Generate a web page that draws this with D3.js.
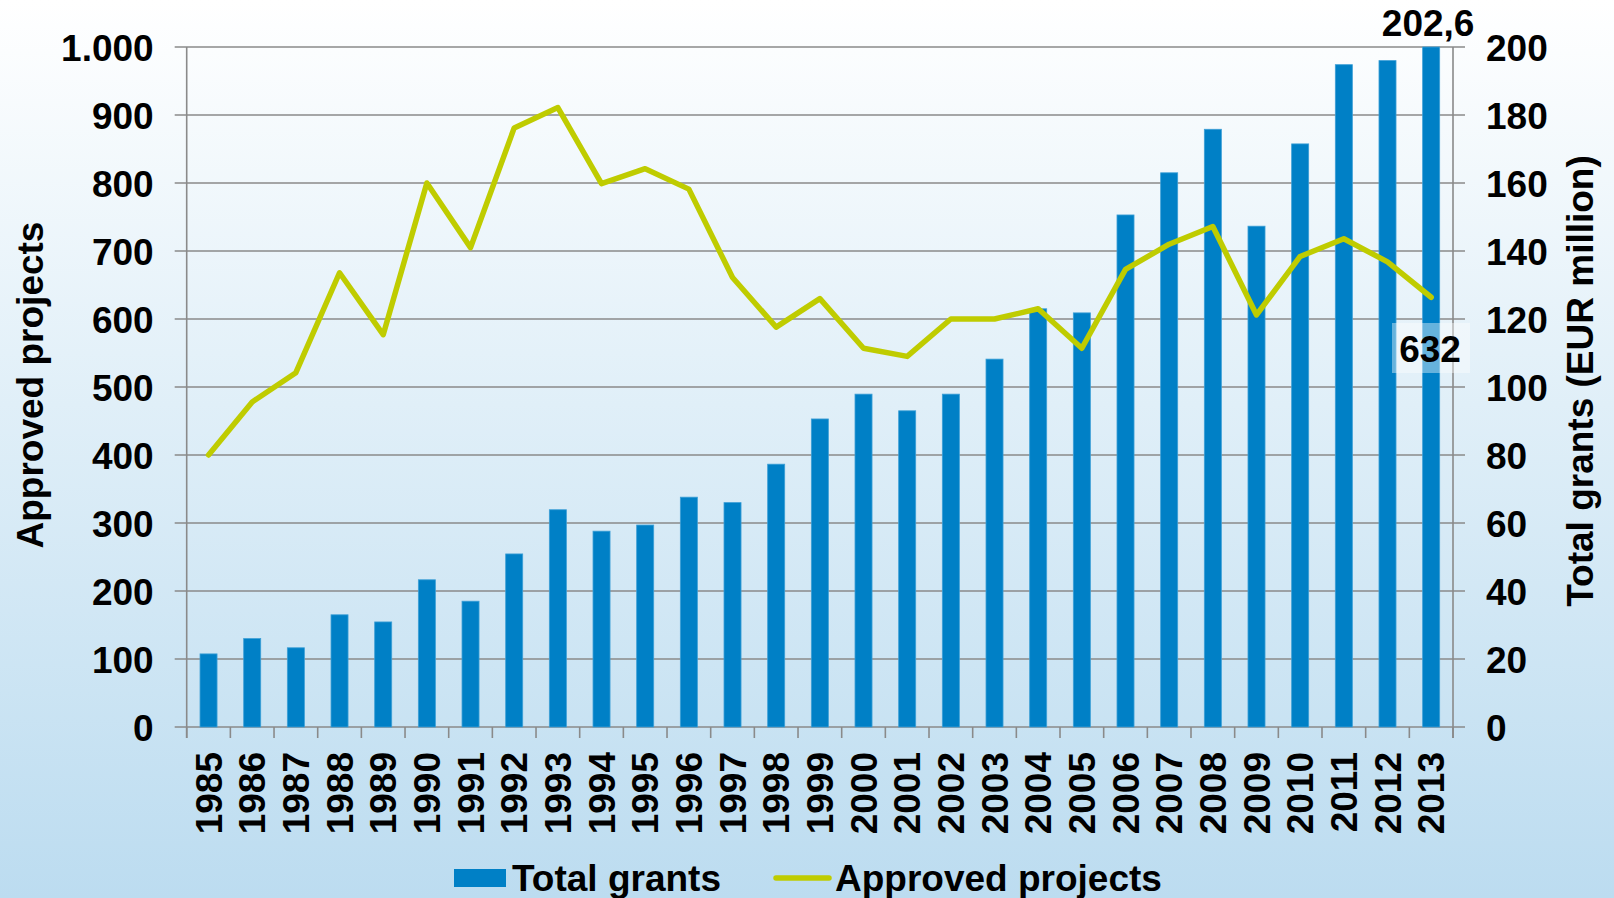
<!DOCTYPE html>
<html>
<head>
<meta charset="utf-8">
<script src="https://cdn.jsdelivr.net/npm/d3@7"></script>
<style>
html,body{margin:0;padding:0;}
body{width:1614px;height:898px;overflow:hidden;}
svg text{font-family:"Liberation Sans",Arial,sans-serif;font-weight:bold;fill:#000;}
</style>
</head>
<body>
<svg id="chart" width="1614" height="898"></svg>
<script>
const years = ["1985","1986","1987","1988","1989","1990","1991","1992","1993","1994","1995","1996","1997","1998","1999","2000","2001","2002","2003","2004","2005","2006","2007","2008","2009","2010","2011","2012","2013"];
const totalGrants = [21.5,26,23.3,33,30.9,43.3,37,50.9,63.9,57.6,59.4,67.6,66,77.3,90.6,97.9,93,97.9,108.2,123,121.8,150.6,163,175.8,147.3,171.5,194.8,196,202.6];
const approvedProjects = [400,478,521,668,577,800,705,881,911,799,821,791,661,588,630,557,545,600,600,615,557,673,710,736,606,692,718,684,632];
const leftTicks = [0,100,200,300,400,500,600,700,800,900,1000];
const rightTicks = [0,20,40,60,80,100,120,140,160,180,200];
const seriesNames = ["Total grants","Approved projects"];
const labelGrantsLast = "202,6";
const labelProjectsLast = "632";

(function(){
const svg = d3.select("#chart");
const W = 1614, H = 898;

const defs = svg.append("defs");
const grad = defs.append("linearGradient").attr("id","bg").attr("x1",0).attr("y1",0).attr("x2",0).attr("y2",1);
grad.append("stop").attr("offset","0%").attr("stop-color","#ffffff");
grad.append("stop").attr("offset","45%").attr("stop-color","#e0eff8");
grad.append("stop").attr("offset","100%").attr("stop-color","#bcdcf0");
svg.append("rect").attr("width",W).attr("height",H).attr("fill","url(#bg)");

const pL = 186.7, pR = 1453, pT = 47, pB = 727;
const x = d3.scaleBand().domain(years).range([pL,pR]).paddingInner(0.61).paddingOuter(0.305);
const yL = d3.scaleLinear().domain([0,1000]).range([pB,pT]);
const yR = d3.scaleLinear().domain([0,200]).range([pB,pT]).clamp(true);

const locale = d3.formatLocale({decimal:",",thousands:".",grouping:[3],currency:["","€"]});
const fmtL = locale.format(",d");

const gridColor = "#8a8a8a";

svg.append("g").selectAll("line").data(leftTicks).join("line")
  .attr("x1",pL-12).attr("x2",pR+12)
  .attr("y1",d=>yL(d)).attr("y2",d=>yL(d))
  .attr("stroke",gridColor).attr("stroke-width",1.6);

const axL = svg.append("g").attr("transform",`translate(${pL},0)`)
  .call(d3.axisLeft(yL).tickValues(leftTicks).tickFormat(fmtL).tickSize(0).tickPadding(33));
axL.select(".domain").remove();
axL.selectAll("text").style("font-size","37px").attr("dy","0.36em");
svg.append("line").attr("x1",pL).attr("x2",pL).attr("y1",pT).attr("y2",pB+11)
  .attr("stroke",gridColor).attr("stroke-width",1.6);

const axR = svg.append("g").attr("transform",`translate(${pR},0)`)
  .call(d3.axisRight(yR).tickValues(rightTicks).tickSize(0).tickPadding(33));
axR.select(".domain").remove();
axR.selectAll("text").style("font-size","37px").attr("dy","0.36em");
svg.append("line").attr("x1",pR).attr("x2",pR).attr("y1",pT).attr("y2",pB+11)
  .attr("stroke",gridColor).attr("stroke-width",1.6);

const step = x.step();
const boundaries = d3.range(years.length+1).map(i=>pL + i*step);
svg.append("g").selectAll("line").data(boundaries).join("line")
  .attr("x1",d=>d).attr("x2",d=>d).attr("y1",pB).attr("y2",pB+11)
  .attr("stroke",gridColor).attr("stroke-width",1.6);

svg.append("g").selectAll("text").data(years).join("text")
  .attr("transform",d=>`translate(${x(d)+x.bandwidth()/2+13},752) rotate(-90)`)
  .attr("text-anchor","end")
  .style("font-size","37px")
  .text(d=>d);

const barColor = "#0080c6";
svg.append("g").selectAll("rect").data(years).join("rect")
  .attr("x",d=>x(d)).attr("width",x.bandwidth())
  .attr("y",(d,i)=>yR(totalGrants[i]))
  .attr("height",(d,i)=>pB - yR(totalGrants[i]))
  .attr("fill",barColor).attr("stroke","#3d9fd6").attr("stroke-width",0.8);

const lineColor = "#bfcc00";
const line = d3.line().x((d,i)=>x(years[i])+x.bandwidth()/2).y(d=>yL(d));
svg.append("path").datum(approvedProjects).attr("d",line)
  .attr("fill","none").attr("stroke",lineColor).attr("stroke-width",5.5)
  .attr("stroke-linejoin","round").attr("stroke-linecap","round");

const lastYear = years[years.length-1];
const lastX = x(lastYear)+x.bandwidth()/2;
svg.append("text").attr("x",lastX-3).attr("y",36).attr("text-anchor","middle")
  .style("font-size","37px").text(labelGrantsLast);

svg.append("rect").attr("x",1392).attr("y",323).attr("width",78).attr("height",50)
  .attr("fill","#ffffff").attr("fill-opacity",0.4);
svg.append("text").attr("x",1430).attr("y",349).attr("dy","0.36em").attr("text-anchor","middle")
  .style("font-size","37px").text(labelProjectsLast);

svg.append("text").attr("transform","translate(43,385) rotate(-90)").attr("text-anchor","middle")
  .style("font-size","37px").text("Approved projects");
svg.append("text").attr("transform","translate(1593,381) rotate(-90)").attr("text-anchor","middle")
  .style("font-size","37px").text("Total grants (EUR million)");

const lg = svg.append("g");
lg.append("rect").attr("x",454).attr("y",869).attr("width",52).attr("height",18).attr("fill",barColor);
lg.append("text").attr("x",512).attr("y",891).style("font-size","37px").text(seriesNames[0]);
lg.append("line").attr("x1",776).attr("x2",829).attr("y1",878).attr("y2",878)
  .attr("stroke",lineColor).attr("stroke-width",5.5).attr("stroke-linecap","round");
lg.append("text").attr("x",835).attr("y",891).style("font-size","37px").text(seriesNames[1]);
})();
</script>
</body>
</html>
